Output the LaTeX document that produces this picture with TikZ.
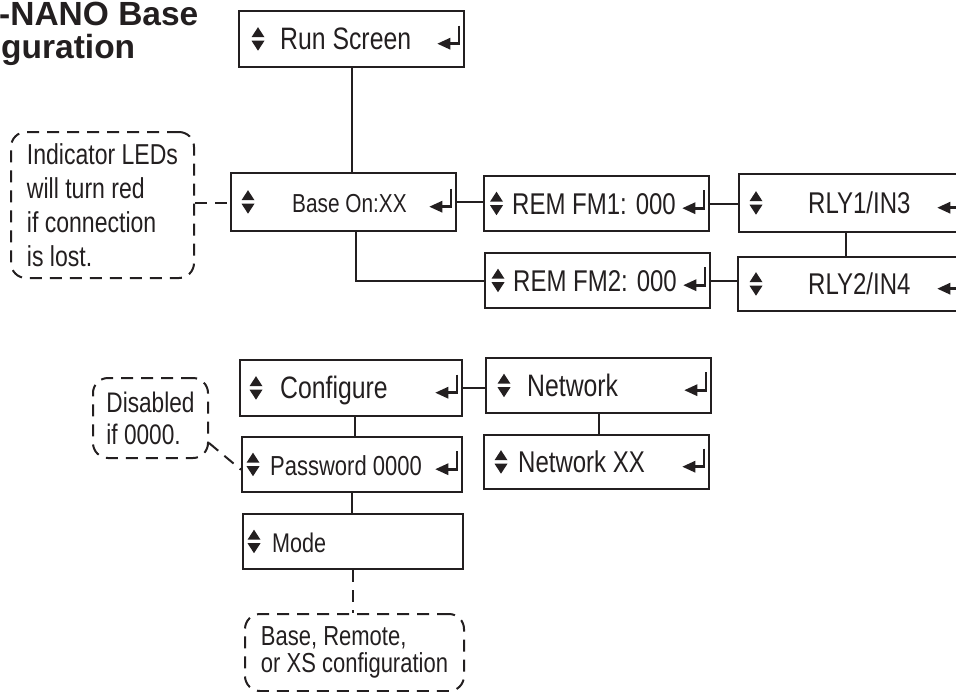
\documentclass[tikz,border=0pt]{standalone}
\usepackage{fontspec}
\newfontfamily\narrow{Liberation Sans}[FakeStretch=0.8]
\newfontfamily\titlefont{Liberation Sans}
\definecolor{ink}{HTML}{231F20}
\newcommand\fs[1]{\narrow\fontsize{#1}{34}\selectfont}

\tikzset{
  menubox/.style={draw=ink, line width=2.4pt, minimum width=225pt, minimum height=56pt,
    inner sep=0pt, anchor=north west},
  txt/.style={anchor=west, inner sep=0pt, text=ink, text height=21pt, text depth=0pt, font=\fs{30}},
  note/.style={draw=ink, line width=2pt, dash pattern=on 12pt off 8pt, rounded corners=15pt,
    anchor=north west, align=left, inner sep=0pt, text=ink},
  link/.style={draw=ink, line width=2.4pt},
  dashlink/.style={draw=ink, line width=2pt, dash pattern=on 12pt off 8pt},
  title/.style={inner sep=0pt, text=ink, font=\titlefont\bfseries\fontsize{33.5}{40}\selectfont}
}

\begin{document}
\begin{tikzpicture}[x=1pt, y=-1pt]
  \useasboundingbox (0,0) rectangle (956,691);

  % title, cut at the left edge
  \node[title, anchor=base west] (t1) at (-1,25) {-NANO Base};
  \node[title, anchor=base west] (t2) at (1,58) {guration};

  % run branch
  \node[menubox, label={[txt, xshift=42pt, font=\fs{31}]west:Run Screen}] (run) at (238,10) {};
  \node[menubox, minimum height=58pt,
    label={[txt, xshift=62pt, font=\fs{26}]west:Base On:XX}] (base) at (230,172) {};
  \node[menubox, minimum height=55pt, label={[txt, xshift=29pt]west:REM FM1: 000}] (fm1) at (483,175) {};
  \node[menubox, minimum height=55pt, label={[txt, xshift=29pt]west:REM FM2: 000}] (fm2) at (484,252) {};
  \node[menubox, minimum height=58pt, label={[txt, xshift=70pt]west:RLY1/IN3}] (rly1) at (738,173) {};
  \node[menubox, minimum width=226pt, minimum height=54pt,
    label={[txt, xshift=71pt]west:RLY2/IN4}] (rly2) at (737,256) {};

  % configure branch
  \node[menubox, minimum width=222pt, label={[txt, xshift=41pt, font=\fs{31}]west:Configure}] (conf) at (239,359) {};
  \node[menubox, minimum width=220pt, minimum height=55pt,
    label={[txt, xshift=29pt, font=\fs{27.5}]west:Password 0000}] (pass) at (241,436) {};
  \node[menubox, minimum width=220pt, minimum height=55pt,
    label={[txt, xshift=30pt, font=\fs{27}]west:Mode}] (mode) at (242,513) {};
  \node[menubox, minimum height=55pt, label={[txt, xshift=42pt, font=\fs{31}]west:Network}] (net) at (485,357) {};
  \node[menubox, minimum height=54pt, label={[txt, xshift=35pt]west:Network XX}] (netxx) at (483,434) {};

  % up/down triangles
  \foreach \n/\u in {run/13.5,base/11.5,fm1/7,fm2/7.5,rly1/11.5,rly2/12.5,conf/10.5,pass/5.5,mode/5.5,net/12.5,netxx/11.5} {
    \fill[ink] ([xshift=\u pt]\n.west) ++(0pt,2pt) -- ++(13pt,0pt) -- ++(-6.5pt,10pt) -- cycle;
    \fill[ink] ([xshift=\u pt]\n.west) ++(0pt,-1.5pt) -- ++(13pt,0pt) -- ++(-6.5pt,-10pt) -- cycle;
  }
  % enter signs (none on Mode)
  \foreach \n in {run,base,fm1,fm2,rly1,rly2,conf,pass,net,netxx} {
    \draw[ink, line width=2.6pt] (\n.east) ++(-6.5pt,13.5pt) -- ++(0pt,-18pt) -- ++(-11pt,0pt);
    \fill[ink] (\n.east) ++(-28pt,-4.5pt) -- ++(13pt,6pt) -- ++(0pt,-12pt) -- cycle;
  }

  % notes
  \node[note, minimum width=183pt, minimum height=146pt, font=\fs{28.8}] (leds)
    at (10,131) {Indicator LEDs\\will turn red\\if connection\\is lost.};
  \node[note, minimum width=115pt, minimum height=80pt, font=\narrow\fontsize{28.3}{32}\selectfont] (dis)
    at (92,377) {Disabled\\if 0000.};
  \node[note, minimum width=219pt, minimum height=77pt, font=\narrow\fontsize{27.5}{27}\selectfont] (modes)
    at (244,613) {Base, Remote,\\or XS configuration};

  % connectors
  \draw[link] (run.south) -- (run.south |- base.north);
  \draw[link] (base.east) -- (base.east -| fm1.west);
  \draw[link] ([xshift=12pt]base.south) |- (fm2.west);
  \draw[link] (fm1.east) -- (fm1.east -| rly1.west);
  \draw[link] (fm2.east) -- (fm2.east -| rly2.west);
  \draw[link] ([xshift=-6pt]rly1.south) -- ([xshift=-6pt]rly1.south |- rly2.north);
  \draw[link] ([xshift=4pt]conf.south) -- ([xshift=4pt]conf.south |- pass.north);
  \draw[link] (pass.south) -- (pass.south |- mode.north);
  \draw[link] (conf.east) -- (conf.east -| net.west);
  \draw[link] (net.south) -- (net.south |- netxx.north);

  % dashed leaders to the notes
  \draw[dashlink] ([yshift=2pt]leds.east) -- ([yshift=2pt]leds.east -| base.west);
  \draw[dashlink] ([yshift=-25pt]dis.east) -- ([yshift=-5pt]pass.west);
  \draw[dashlink] (mode.south) -- (mode.south |- modes.north);
\end{tikzpicture}
\end{document}
